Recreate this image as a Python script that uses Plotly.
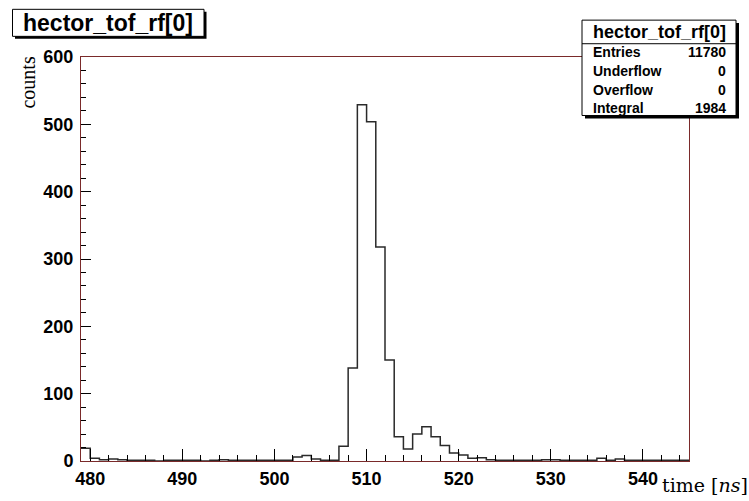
import plotly.graph_objects as go

# ---- data (1 ns bins, lower edges 479..544) ----
bin_low = list(range(479, 545))
counts = [19, 4, 2, 3, 2, 1, 1, 1, 0, 1,      # 479-488
          1, 1, 1, 0, 1, 2, 1, 1, 1, 1,       # 489-498
          1, 1, 1, 6, 8, 3, 1, 1, 22, 138,    # 499-508
          529, 504, 318, 150, 36, 18, 40, 51, 36, 23,  # 509-518
          12, 9, 4, 5, 2, 1, 1, 1, 1, 1,      # 519-528
          2, 2, 1, 1, 1, 1, 4, 1, 3, 1,       # 529-538
          1, 1, 1, 1, 1, 1]                   # 539-544
bin_width = 1
x_ticks = [480, 490, 500, 510, 520, 530, 540]
y_ticks = [0, 100, 200, 300, 400, 500, 600]
hist_name = "hector_tof_rf[0]"
stats_labels = ["Entries", "Underflow", "Overflow", "Integral"]
stats_values = ["11780", "0", "0", "1984"]

# step outline from bin edges
xs = bin_low + [bin_low[-1] + bin_width]
ys = counts + [counts[-1]]

W, H = 749, 501
ML, MR, MT, MB = 81, 60, 57, 33
PW, PH = W - ML - MR, H - MT - MB


def px(x):
    return (x - ML) / PW


def py(y):
    return (H - MB - y) / PH


fig = go.Figure()
fig.add_trace(go.Scatter(x=xs, y=ys, mode="lines", line_shape="hv",
                         line=dict(color="#2a2a2a", width=1.5),
                         hoverinfo="skip", showlegend=False))

frame_col = "#7a2a2a"
tickfont = dict(family="Liberation Sans, Arial, sans-serif", size=18,
                color="black", weight="bold")

fig.update_xaxes(range=[479, 545], showgrid=False, zeroline=False,
                 showline=True, linecolor=frame_col, linewidth=1, mirror=True,
                 tickmode="array", tickvals=x_ticks,
                 ticktext=[str(v) for v in x_ticks],
                 ticks="inside", ticklen=12, tickcolor="black", tickwidth=1,
                 minor=dict(tickmode="linear", tick0=480, dtick=2, ticks="inside",
                            ticklen=6, tickcolor="black", tickwidth=1),
                 tickfont=tickfont, ticklabelstandoff=1)
fig.update_yaxes(range=[0, 600], showgrid=False, zeroline=False,
                 showline=True, linecolor=frame_col, linewidth=1, mirror=True,
                 tickmode="array", tickvals=y_ticks,
                 ticktext=[str(v) for v in y_ticks],
                 ticks="inside", ticklen=10, tickcolor="black", tickwidth=1,
                 minor=dict(tickmode="linear", tick0=0, dtick=20, ticks="inside",
                            ticklen=5, tickcolor="black", tickwidth=1),
                 tickfont=tickfont, ticklabelstandoff=3)

shapes = []
# title box with shadow
shapes.append(dict(type="rect", xref="paper", yref="paper",
                   x0=px(15), x1=px(206.5), y0=py(38.5), y1=py(11),
                   fillcolor="black", line=dict(width=0), layer="above"))
shapes.append(dict(type="rect", xref="paper", yref="paper",
                   x0=px(12.5), x1=px(204), y0=py(36), y1=py(8.5),
                   fillcolor="white", line=dict(color="black", width=1), layer="above"))
# stats box with shadow
shapes.append(dict(type="rect", xref="paper", yref="paper",
                   x0=px(585), x1=px(739), y0=py(119.5), y1=py(22.5),
                   fillcolor="black", line=dict(width=0), layer="above"))
shapes.append(dict(type="rect", xref="paper", yref="paper",
                   x0=px(582), x1=px(736), y0=py(116.5), y1=py(19.5),
                   fillcolor="white", line=dict(color="black", width=1), layer="above"))
shapes.append(dict(type="line", xref="paper", yref="paper",
                   x0=px(582), x1=px(736), y0=py(43.5), y1=py(43.5),
                   line=dict(color="black", width=1), layer="above"))

ann = []
ann.append(dict(text=hist_name, xref="paper", yref="paper", x=px(108), y=py(22.5),
                xanchor="center", yanchor="middle", showarrow=False,
                font=dict(family="Liberation Sans, Arial, sans-serif", size=23,
                          color="black", weight="bold")))
ann.append(dict(text=hist_name, xref="paper", yref="paper", x=px(659), y=py(31.5),
                xanchor="center", yanchor="middle", showarrow=False,
                font=dict(family="Liberation Sans, Arial, sans-serif", size=18,
                          color="black", weight="bold")))
row_y = [52, 71.5, 90.5, 108.5]
for lab, val, yy in zip(stats_labels, stats_values, row_y):
    ann.append(dict(text=lab, xref="paper", yref="paper", x=px(591), y=py(yy),
                    xanchor="left", yanchor="middle", showarrow=False,
                    font=dict(family="Liberation Sans, Arial, sans-serif", size=14,
                              color="black", weight="bold")))
    ann.append(dict(text=val, xref="paper", yref="paper", x=px(727.5), y=py(yy),
                    xanchor="right", yanchor="middle", showarrow=False,
                    font=dict(family="Liberation Sans, Arial, sans-serif", size=14,
                              color="black", weight="bold")))
# axis titles
ann.append(dict(text="time [<i>ns</i>]", xref="paper", yref="paper",
                x=px(660), y=py(492), xanchor="left", yanchor="middle",
                showarrow=False,
                font=dict(family="DejaVu Serif, serif", size=19, color="black")))
ann.append(dict(text="counts", xref="paper", yref="paper",
                x=px(28), y=py(83), xanchor="center", yanchor="middle",
                textangle=-90, showarrow=False,
                font=dict(family="Liberation Serif, serif", size=20, color="black")))

fig.update_layout(width=W, height=H, margin=dict(l=ML, r=MR, t=MT, b=MB),
                  paper_bgcolor="white", plot_bgcolor="white",
                  shapes=shapes, annotations=ann, showlegend=False)

fig.write_html("out.html")
